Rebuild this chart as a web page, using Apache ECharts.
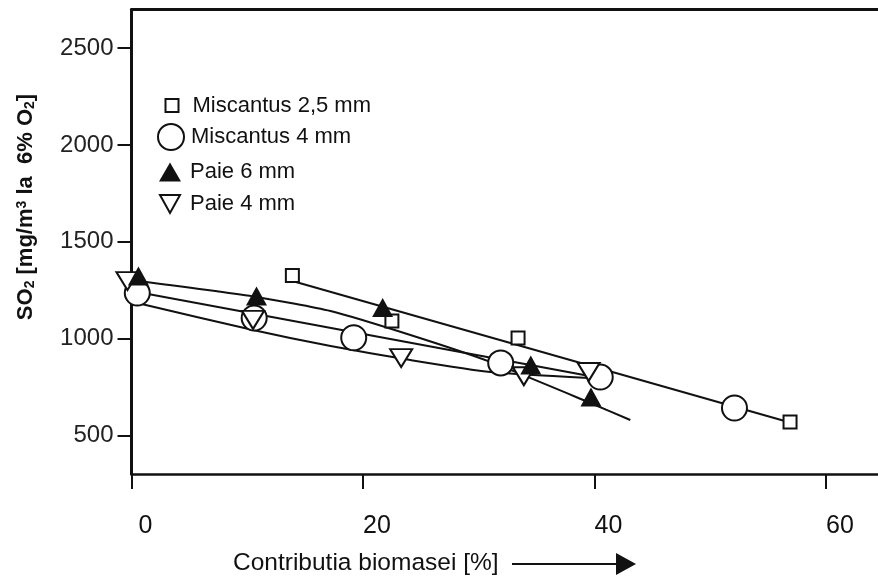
<!DOCTYPE html>
<html>
<head>
<meta charset="utf-8">
<script src="https://cdn.jsdelivr.net/npm/echarts@6/dist/echarts.min.js"></script>
<style>
html,body{margin:0;padding:0;background:#fff;}
#chart{width:878px;height:577px;}
</style>
</head>
<body>
<div id="chart"></div>
<script>
// ---- data ----
const xTicks = [0, 20, 40, 60];
const yTicks = [500, 1000, 1500, 2000, 2500];

const seriesNames = ['Miscantus 2,5 mm', 'Miscantus 4 mm', 'Paie 6 mm', 'Paie 4 mm'];

// measured points [biomass %, SO2]
const miscantus25 = [[13.9, 1325], [22.5, 1091], [33.4, 1003], [56.9, 569]];
const miscantus4  = [[0.5, 1235], [10.6, 1106], [19.2, 1004], [31.9, 874], [40.5, 801], [52.1, 641]];
const paie6       = [[0.6, 1323], [10.8, 1220], [21.7, 1160], [34.5, 863], [39.7, 698]];
const paie4       = [[-0.35, 1297], [10.5, 1096], [23.3, 899], [33.9, 805], [39.5, 827]];

// drawn trend curves
const fitMiscantus25 = [[13.9, 1297], [56.9, 566]];
const fitMiscantus4  = [[0.5, 1240], [40.5, 796]];
const fitPaie6       = [[0.6, 1297], [10.8, 1215], [17.2, 1142], [24.1, 1018], [31.0, 879], [39.65, 667], [43.1, 579]];
const fitPaie4       = [[0.5, 1184], [10.5, 1044], [17.2, 961], [24.1, 889], [31.0, 827], [39.5, 796]];

const FONT = '"Liberation Sans", Arial, Helvetica, sans-serif';
const INK = '#111';
const downTri = 'path://M0,0L20,0L10,18Z';

const chart = echarts.init(document.getElementById('chart'), null, {renderer: 'canvas'});

function fitLine(data, smooth) {
  return {
    type: 'line', data: data, showSymbol: false, symbol: 'none', smooth: smooth,
    lineStyle: {color: INK, width: 2, join: 'round'}, z: 1, silent: true
  };
}
function markers(name, data, symbol, size, filled, z) {
  return {
    type: 'scatter', name: name, data: data, symbol: symbol, symbolSize: size,
    clip: false, z: z,
    itemStyle: {color: filled ? INK : '#fff', borderColor: INK, borderWidth: filled ? 0 : 2, opacity: 1}
  };
}
function legendAt(name, icon, w, h, left, top, pad) {
  return {
    data: [{name: name, icon: icon}], left: left, top: top, orient: 'vertical',
    itemWidth: w, itemHeight: h, padding: 0, selectedMode: false,
    textStyle: {fontFamily: FONT, fontSize: 22, color: INK, padding: [0, 0, 0, pad]}
  };
}

const option = {
  backgroundColor: '#fff',
  animation: false,
  grid: {left: 131.5, right: 0, top: 9.5, bottom: 103, containLabel: false},
  xAxis: [{
    type: 'value', min: 0, max: 64.5, interval: 20,
    axisLine: {show: true, onZero: false, lineStyle: {color: INK, width: 2.5}},
    axisTick: {show: true, inside: false, length: 15, lineStyle: {color: INK, width: 2}, customValues: xTicks},
    axisLabel: {show: true, margin: 40, fontFamily: FONT, fontSize: 25, color: INK,
      padding: [0, 0, 0, 28], customValues: xTicks, formatter: v => String(v)},
    splitLine: {show: false}
  }, {
    type: 'value', position: 'top', min: 0, max: 64.5,
    axisLine: {show: true, onZero: false, lineStyle: {color: INK, width: 3}},
    axisTick: {show: false}, axisLabel: {show: false}, splitLine: {show: false}
  }],
  yAxis: [{
    type: 'value', min: 300, max: 2700,
    axisLine: {show: true, onZero: false, lineStyle: {color: INK, width: 3}},
    axisTick: {show: true, inside: false, length: 14, lineStyle: {color: INK, width: 2}, customValues: yTicks},
    axisLabel: {show: true, margin: 18, fontFamily: FONT, fontSize: 24, color: '#222',
      customValues: yTicks, formatter: v => String(v)},
    splitLine: {show: false}
  }],
  legend: [
    legendAt(seriesNames[0], 'rect', 13, 13, 164.5, 94.5, 9),
    legendAt(seriesNames[1], 'circle', 26, 26, 157, 123, 2),
    legendAt(seriesNames[2], 'triangle', 22, 19, 159, 161, 4),
    legendAt(seriesNames[3], downTri, 22, 18, 159, 193, 4)
  ],
  series: [
    fitLine(fitMiscantus25, false),
    fitLine(fitMiscantus4, false),
    fitLine(fitPaie6, 0.2),
    fitLine(fitPaie4, 0.2),
    markers(seriesNames[1], miscantus4, 'circle', 25, false, 3),
    markers(seriesNames[3], paie4, downTri, [22, 18], false, 4),
    markers(seriesNames[0], miscantus25, 'rect', 13, false, 5),
    markers(seriesNames[2], paie6, 'triangle', [21, 19], true, 6)
  ],
  graphic: [
    {
      type: 'text', x: 26, y: 207, rotation: Math.PI / 2,
      style: {
        text: 'SO{sub|2} [mg/m{sup|3} la  6% O{sub|2}]',
        align: 'center', verticalAlign: 'middle',
        font: 'bold 22px ' + FONT, fill: INK,
        rich: {
          sub: {fontSize: 14, fontWeight: 'bold', fontFamily: FONT, verticalAlign: 'bottom', lineHeight: 12, fill: INK},
          sup: {fontSize: 14, fontWeight: 'bold', fontFamily: FONT, verticalAlign: 'top', lineHeight: 12, fill: INK}
        }
      }
    },
    {
      type: 'text', x: 233, y: 563,
      style: {text: 'Contributia biomasei [%]', align: 'left', verticalAlign: 'middle',
        font: '24.5px ' + FONT, fill: INK}
    },
    {
      type: 'line', shape: {x1: 512, y1: 564, x2: 620, y2: 564},
      style: {stroke: INK, lineWidth: 2}
    },
    {
      type: 'polygon', shape: {points: [[616, 553], [636, 564], [616, 575]]},
      style: {fill: INK}
    }
  ]
};
chart.setOption(option);
</script>
</body>
</html>
